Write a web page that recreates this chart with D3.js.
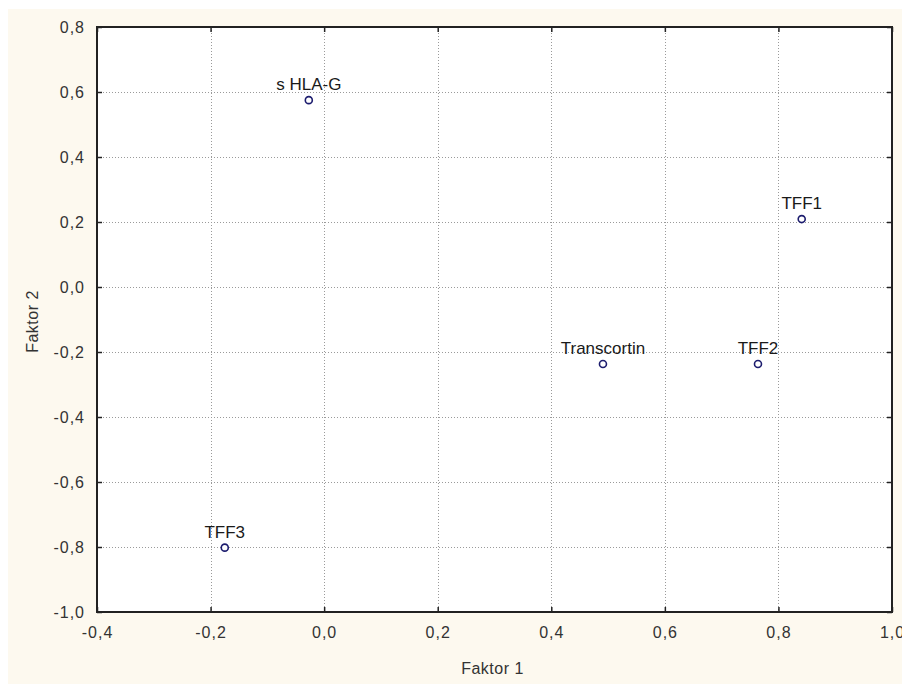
<!DOCTYPE html>
<html>
<head>
<meta charset="utf-8">
<script src="https://cdn.jsdelivr.net/npm/d3@7/dist/d3.min.js"></script>
<style>
  html, body { margin: 0; padding: 0; background: #ffffff; }
  svg { display: block; }
  text { font-family: "Liberation Sans", Arial, sans-serif; }
</style>
</head>
<body>
<svg id="chart" width="902" height="684"></svg>
<script>
// Factor loadings
const variables = ["s HLA-G", "TFF1", "Transcortin", "TFF2", "TFF3"];
const faktor1 = [-0.027, 0.841, 0.491, 0.764, -0.175];
const faktor2 = [0.575, 0.209, -0.237, -0.237, -0.802];

const xTicks = [-0.4, -0.2, 0.0, 0.2, 0.4, 0.6, 0.8, 1.0];
const yTicks = [0.8, 0.6, 0.4, 0.2, 0.0, -0.2, -0.4, -0.6, -0.8, -1.0];

const W = 902, H = 684;
const plot = { left: 97, right: 892, top: 27, bottom: 612 };

const svg = d3.select("#chart");

// page background
svg.append("rect").attr("x", 0).attr("y", 0).attr("width", W).attr("height", H).attr("fill", "#ffffff");
svg.append("rect").attr("x", 8).attr("y", 9).attr("width", W - 8).attr("height", H - 9).attr("fill", "#fdf9ef");

const x = d3.scaleLinear().domain([-0.4, 1.0]).range([plot.left, plot.right]);
const y = d3.scaleLinear().domain([-1.0, 0.8]).range([plot.bottom, plot.top]);

const fmt = v => d3.format(".1f")(v).replace(".", ",").replace("−", "-");

// plot area
svg.append("rect")
  .attr("x", plot.left).attr("y", plot.top)
  .attr("width", plot.right - plot.left).attr("height", plot.bottom - plot.top)
  .attr("fill", "#ffffff");

// dotted grid
const grid = svg.append("g").attr("stroke", "#9a9a9a").attr("stroke-width", 1)
  .attr("stroke-dasharray", "1,2");
grid.selectAll(".gx").data(xTicks.slice(1, -1)).join("line")
  .attr("x1", d => Math.round(x(d)) + 0.5).attr("x2", d => Math.round(x(d)) + 0.5)
  .attr("y1", plot.top).attr("y2", plot.bottom);
grid.selectAll(".gy").data(yTicks.slice(1, -1)).join("line")
  .attr("y1", d => Math.round(y(d)) + 0.5).attr("y2", d => Math.round(y(d)) + 0.5)
  .attr("x1", plot.left).attr("x2", plot.right);

// axes with inward ticks on all four sides
const tickStyle = g => {
  g.select(".domain").remove();
  g.selectAll(".tick line").attr("stroke", "#222").attr("stroke-width", 1.5);
  g.selectAll(".tick text").attr("fill", "#333").style("font-size", "16px")
    .style("letter-spacing", "1px")
    .style("font-family", "'Liberation Sans', Arial, sans-serif");
};

svg.append("g").attr("transform", `translate(0,${plot.bottom})`)
  .call(d3.axisBottom(x).tickValues(xTicks).tickFormat(fmt).tickSizeInner(-5).tickSizeOuter(0).tickPadding(15))
  .call(tickStyle);
svg.append("g").attr("transform", `translate(${plot.left},0)`)
  .call(d3.axisLeft(y).tickValues(yTicks).tickFormat(fmt).tickSizeInner(-5).tickSizeOuter(0).tickPadding(12))
  .call(tickStyle);
svg.append("g").attr("transform", `translate(0,${plot.top})`)
  .call(d3.axisTop(x).tickValues(xTicks).tickFormat("").tickSizeInner(-5).tickSizeOuter(0))
  .call(tickStyle);
svg.append("g").attr("transform", `translate(${plot.right},0)`)
  .call(d3.axisRight(y).tickValues(yTicks).tickFormat("").tickSizeInner(-5).tickSizeOuter(0))
  .call(tickStyle);

// frame
svg.append("rect")
  .attr("x", plot.left).attr("y", plot.top)
  .attr("width", plot.right - plot.left).attr("height", plot.bottom - plot.top)
  .attr("fill", "none").attr("stroke", "#222").attr("stroke-width", 2);

// axis titles
svg.append("text")
  .attr("x", (plot.left + plot.right) / 2 - 2).attr("y", 674)
  .attr("text-anchor", "middle").attr("fill", "#333")
  .style("font-size", "16px").style("letter-spacing", "0.5px")
  .text("Faktor 1");
svg.append("text")
  .attr("transform", `translate(38,${(plot.top + plot.bottom) / 2 + 2}) rotate(-90)`)
  .attr("text-anchor", "middle").attr("fill", "#333")
  .style("font-size", "16px").style("letter-spacing", "0.5px")
  .text("Faktor 2");

// points and labels
const pts = variables.map((name, i) => ({ name, f1: faktor1[i], f2: faktor2[i] }));
const pg = svg.append("g");
pg.selectAll("circle").data(pts).join("circle")
  .attr("cx", d => x(d.f1)).attr("cy", d => y(d.f2)).attr("r", 3.5)
  .attr("fill", "#ffffff").attr("stroke", "#1c1c6e").attr("stroke-width", 1.6);
pg.selectAll("text").data(pts).join("text")
  .attr("x", d => x(d.f1)).attr("y", d => y(d.f2) - 10)
  .attr("text-anchor", "middle").attr("fill", "#1a1a1a")
  .style("font-size", "17px")
  .text(d => d.name);
</script>
</body>
</html>
